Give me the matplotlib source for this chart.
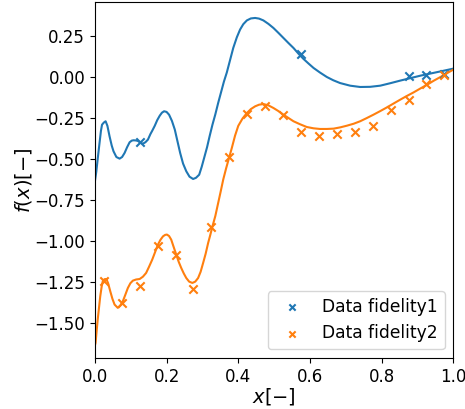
import matplotlib
matplotlib.use("Agg")
import matplotlib.pyplot as plt

# high-fidelity prediction curve
hf_x = [0.0, 0.004, 0.008, 0.013, 0.017, 0.020, 0.025, 0.030, 0.035, 0.041, 0.047, 0.052,
        0.060, 0.069, 0.076, 0.083, 0.090, 0.097, 0.103, 0.108, 0.114, 0.120, 0.127, 0.134,
        0.141, 0.148, 0.155, 0.160, 0.167, 0.174, 0.181, 0.187, 0.193, 0.200, 0.207, 0.215,
        0.223, 0.230, 0.238, 0.246, 0.255, 0.264, 0.274, 0.282, 0.291, 0.298, 0.306, 0.313,
        0.320, 0.328, 0.336, 0.344, 0.352, 0.360, 0.368, 0.377, 0.386, 0.396, 0.405, 0.414,
        0.424, 0.435, 0.447, 0.458, 0.470, 0.484, 0.498, 0.512, 0.526, 0.540, 0.554, 0.568,
        0.582, 0.596, 0.610, 0.628, 0.647, 0.665, 0.684, 0.712, 0.740, 0.768, 0.796, 0.824,
        0.852, 0.880, 0.908, 0.936, 0.964, 1.0]
hf_y = [-0.64, -0.58, -0.50, -0.405, -0.33, -0.293, -0.28, -0.272, -0.30, -0.364, -0.42, -0.455,
        -0.49, -0.50, -0.49, -0.465, -0.43, -0.40, -0.39, -0.388, -0.389, -0.392, -0.403, -0.409,
        -0.40, -0.384, -0.35, -0.33, -0.30, -0.265, -0.238, -0.22, -0.211, -0.215, -0.232, -0.27,
        -0.323, -0.39, -0.466, -0.53, -0.577, -0.61, -0.624, -0.617, -0.598, -0.55, -0.486, -0.43,
        -0.364, -0.293, -0.23, -0.16, -0.095, -0.03, 0.025, 0.10, 0.175, 0.24, 0.287, 0.32,
        0.343, 0.355, 0.358, 0.354, 0.343, 0.322, 0.297, 0.267, 0.236, 0.205, 0.175, 0.14,
        0.108, 0.08, 0.053, 0.025, -0.002, -0.022, -0.039, -0.055, -0.063, -0.062, -0.055, -0.04,
        -0.024, -0.009, 0.006, 0.019, 0.032, 0.049]

# low-fidelity prediction curve
lf_x = [0.0, 0.002, 0.005, 0.008, 0.012, 0.015, 0.019, 0.022, 0.027, 0.032, 0.037, 0.043,
        0.049, 0.055, 0.064, 0.071, 0.078, 0.085, 0.092, 0.099, 0.106, 0.115, 0.125, 0.134,
        0.143, 0.151, 0.160, 0.168, 0.176, 0.183, 0.190, 0.196, 0.201, 0.207, 0.213, 0.220,
        0.227, 0.234, 0.241, 0.248, 0.255, 0.263, 0.272, 0.280, 0.288, 0.295, 0.302, 0.309,
        0.316, 0.322, 0.328, 0.336, 0.344, 0.351, 0.358, 0.366, 0.375, 0.382, 0.391, 0.400,
        0.412, 0.424, 0.435, 0.447, 0.458, 0.470, 0.484, 0.498, 0.512, 0.526, 0.540, 0.554,
        0.572, 0.591, 0.610, 0.628, 0.647, 0.666, 0.685, 0.703, 0.722, 0.740, 0.758, 0.777,
        0.796, 0.815, 0.833, 0.852, 0.870, 0.889, 0.908, 0.927, 0.945, 0.964, 0.982, 1.0]
lf_y = [-1.64, -1.624, -1.55, -1.48, -1.40, -1.34, -1.28, -1.248, -1.235, -1.234, -1.26, -1.309,
        -1.355, -1.39, -1.41, -1.395, -1.37, -1.33, -1.289, -1.26, -1.244, -1.237, -1.234, -1.22,
        -1.197, -1.16, -1.116, -1.07, -1.024, -0.995, -0.974, -0.965, -0.963, -0.972, -0.994, -1.04,
        -1.085, -1.13, -1.167, -1.20, -1.228, -1.25, -1.258, -1.25, -1.228, -1.19, -1.136, -1.08,
        -1.014, -0.965, -0.913, -0.85, -0.77, -0.70, -0.628, -0.56, -0.49, -0.435, -0.36, -0.30,
        -0.255, -0.222, -0.198, -0.181, -0.171, -0.167, -0.175, -0.191, -0.21, -0.232, -0.252, -0.272,
        -0.29, -0.307, -0.315, -0.319, -0.319, -0.317, -0.309, -0.299, -0.287, -0.272, -0.253, -0.232,
        -0.21, -0.187, -0.164, -0.140, -0.118, -0.096, -0.072, -0.049, -0.025, -0.002, 0.021, 0.043]

# data points
fid1_x = [0.125, 0.575, 0.875, 0.925, 0.975]
fid1_y = [-0.40, 0.138, 0.002, 0.008, 0.018]
fid2_x = [0.025, 0.075, 0.125, 0.175, 0.225, 0.275, 0.325, 0.375, 0.425, 0.475,
          0.525, 0.575, 0.625, 0.675, 0.725, 0.775, 0.825, 0.875, 0.925, 0.975]
fid2_y = [-1.244, -1.38, -1.274, -1.03, -1.09, -1.293, -0.919, -0.49, -0.226, -0.177,
          -0.236, -0.34, -0.364, -0.348, -0.337, -0.303, -0.201, -0.144, -0.045, 0.012]

yticks = [0.25, 0.0, -0.25, -0.5, -0.75, -1.0, -1.25, -1.5]
xticks = [0.0, 0.2, 0.4, 0.6, 0.8, 1.0]

fig = plt.figure(figsize=(4.65, 4.09), dpi=100)
ax = fig.add_axes([0.204, 0.125, 0.771, 0.870])

ax.plot(hf_x, hf_y, color='tab:blue', lw=1.5)
ax.plot(lf_x, lf_y, color='tab:orange', lw=1.5)
ax.scatter(fid1_x, fid1_y, marker='x', color='tab:blue', label='Data fidelity1', zorder=3)
ax.scatter(fid2_x, fid2_y, marker='x', color='tab:orange', label='Data fidelity2', zorder=3)

ax.set_xlim(0.0, 1.0)
ax.set_ylim(-1.715, 0.455)
ax.set_xticks(xticks)
ax.set_yticks(yticks)
ax.tick_params(labelsize=12)
ax.set_xlabel('$x[-]$', fontsize=14, labelpad=0.5)
ax.set_ylabel('$f(x)[-]$', fontsize=14, labelpad=0.5)
ax.legend(loc='lower right', fontsize=12.3, markerscale=0.75)

fig.savefig('out.png', dpi=100)
